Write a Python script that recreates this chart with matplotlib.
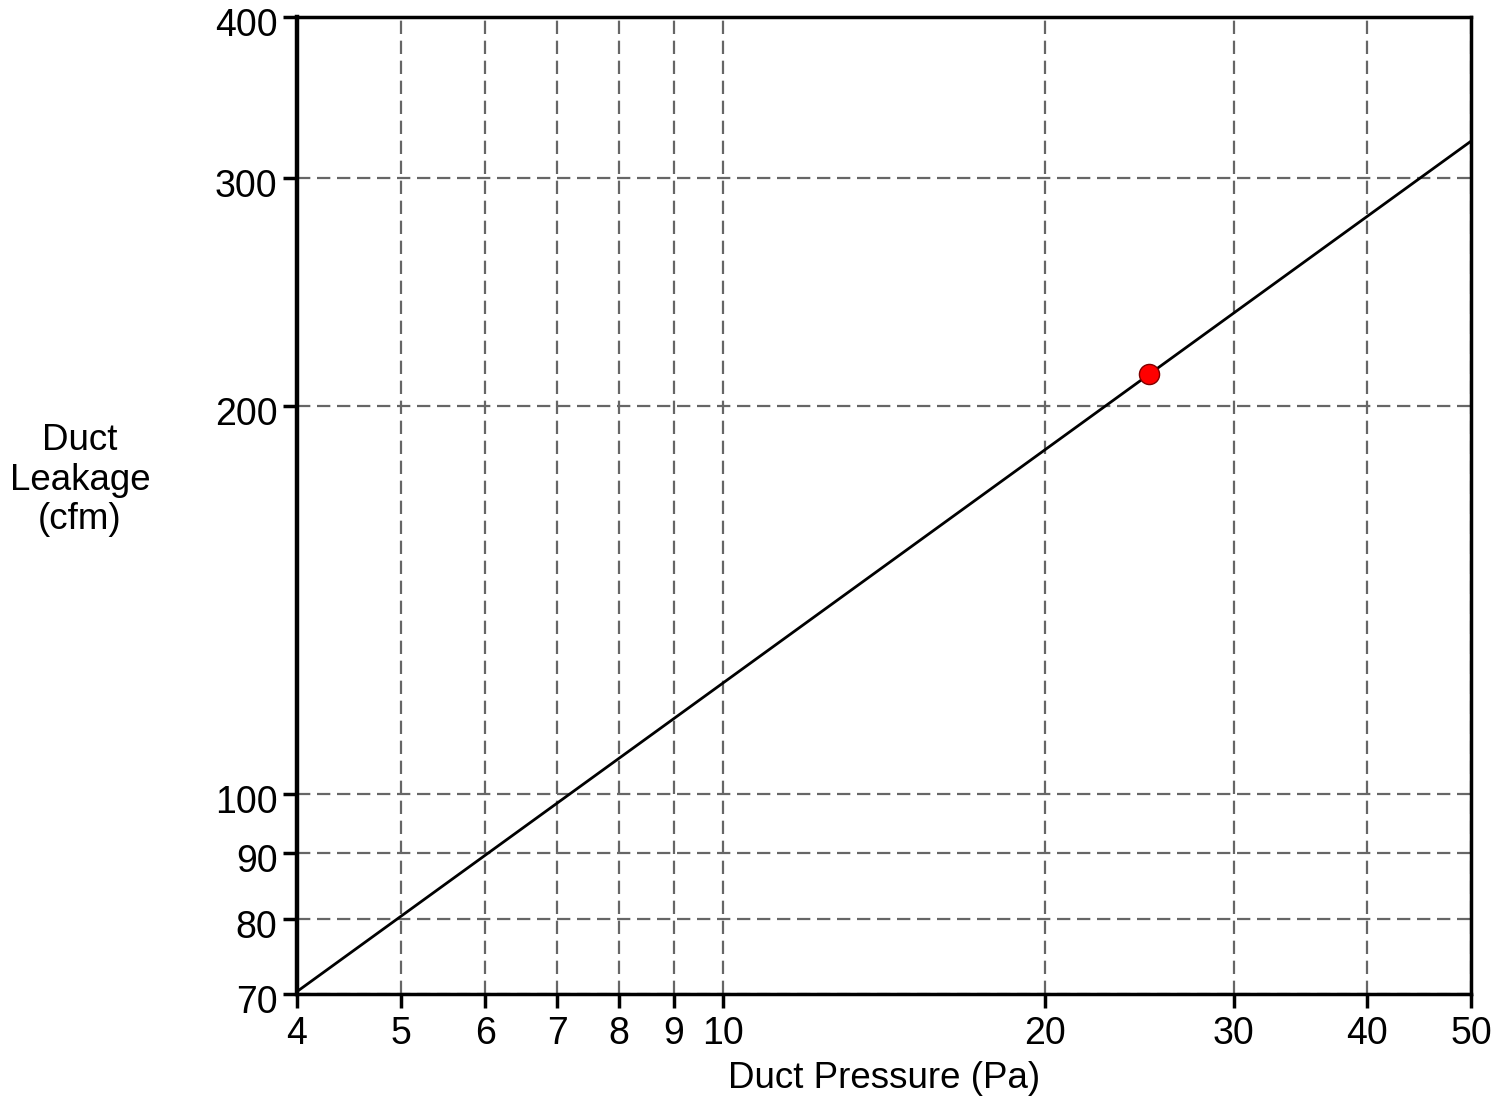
import matplotlib
matplotlib.use("Agg")
from matplotlib import pyplot as plt
from matplotlib.ticker import FixedLocator, FixedFormatter, NullLocator
from matplotlib.transforms import ScaledTranslation

plt.rcParams['font.family'] = ['Liberation Sans', 'DejaVu Sans']

# data
x_ticks = [4, 5, 6, 7, 8, 9, 10, 20, 30, 40, 50]
y_ticks = [70, 80, 90, 100, 200, 300, 400]
fit_pressure = [4, 50]
fit_leakage = [70.3, 320.5]
test_pressure = [25]
test_leakage = [211.5]

fig = plt.figure(figsize=(15.12, 11.01), dpi=100)
ax = fig.add_axes([0.1964, 0.0972, 0.7765, 0.8874])

ax.set_xscale('log')
ax.set_yscale('log')
ax.set_xlim(4, 50)
ax.set_ylim(70, 400)

ax.xaxis.set_major_locator(FixedLocator(x_ticks))
ax.xaxis.set_major_formatter(FixedFormatter([str(v) for v in x_ticks]))
ax.xaxis.set_minor_locator(NullLocator())
ax.yaxis.set_major_locator(FixedLocator(y_ticks))
ax.yaxis.set_major_formatter(FixedFormatter([str(v) for v in y_ticks]))
ax.yaxis.set_minor_locator(NullLocator())

ax.grid(True, which='major', color='#666666', linestyle=(0, (6, 3)), linewidth=1.6)
ax.set_axisbelow(True)

ax.plot(fit_pressure, fit_leakage, color='black', linewidth=2, zorder=3)
ax.plot(test_pressure, test_leakage, 'o', markersize=14.5, markerfacecolor='#ff0000',
        markeredgecolor='#800000', markeredgewidth=1, zorder=4)

for side in ['left', 'bottom', 'right', 'top']:
    ax.spines[side].set_linewidth(2.5)
    ax.spines[side].set_color('black')
ax.spines['left'].set_linewidth(3.2)

ax.tick_params(axis='both', which='major', labelsize=27, length=10, width=2.5,
               direction='out', color='black')
ax.tick_params(axis='x', pad=6)
ax.tick_params(axis='y', pad=4)

# y tick labels sit a little below their ticks in the reference
shift = ScaledTranslation(0, -5 / 100, fig.dpi_scale_trans)
for lbl in ax.get_yticklabels():
    lbl.set_transform(lbl.get_transform() + shift)

ax.set_xlabel('Duct Pressure (Pa)', fontsize=26.5, labelpad=6)
fig.text(0.0529, 0.564, 'Duct\nLeakage\n(cfm)', fontsize=26.5, ha='center', va='center',
         linespacing=1.15)

fig.savefig('out.png', dpi=100)
